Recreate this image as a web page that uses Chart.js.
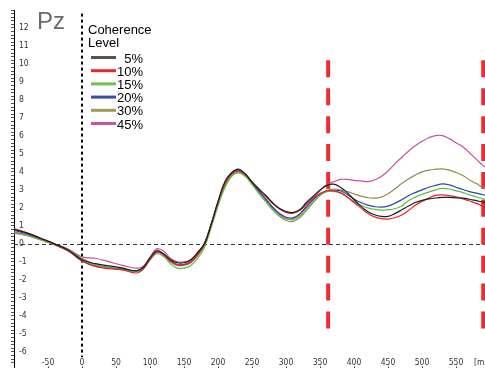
<!DOCTYPE html>
<html>
<head>
<meta charset="utf-8">
<script src="https://cdn.jsdelivr.net/npm/chart.js@4.4.1/dist/chart.umd.min.js"></script>
<style>
  html, body { margin: 0; padding: 0; background: #fff; overflow: hidden; }
  canvas { display: block; }
</style>
</head>
<body>
<canvas id="erp" width="485" height="368"></canvas>
<script>
// Time points (ms) of the averaged ERP waveforms
const times = [-100, -80, -60, -40, -20, 0, 20, 40, 60, 80,
  90, 100, 110, 120, 130, 140, 150, 160, 170, 180,
  190, 200, 210, 220, 230, 240, 250, 260, 270, 280,
  290, 300, 310, 320, 330, 340, 350, 360, 370, 380,
  390, 400, 410, 420, 430, 440, 450, 460, 470, 480,
  490, 500, 510, 520, 530, 540, 550, 560, 570, 580,
  590, 600];

// Amplitude (µV) at Pz for each coherence level
const coh5 = [0.8, 0.6, 0.3, 0.0, -0.35, -0.88, -1.1, -1.22, -1.35, -1.5,
  -1.3, -0.78, -0.38, -0.55, -0.88, -1.05, -1.05, -0.88, -0.48, 0.0,
  1.1, 2.35, 3.45, 3.95, 4.15, 3.9, 3.45, 3.05, 2.7, 2.3,
  1.98, 1.8, 1.74, 1.9, 2.3, 2.65, 3.0, 3.25, 3.32, 3.15,
  2.85, 2.45, 2.1, 1.8, 1.62, 1.53, 1.53, 1.68, 1.88, 2.1,
  2.3, 2.42, 2.5, 2.55, 2.58, 2.58, 2.56, 2.54, 2.48, 2.4,
  2.32, 2.26];
const coh10 = [0.85, 0.6, 0.3, -0.05, -0.4, -0.95, -1.25, -1.38, -1.45, -1.62,
  -1.4, -0.85, -0.45, -0.6, -0.95, -1.15, -1.15, -1.0, -0.6, -0.05,
  1.05, 2.3, 3.35, 3.9, 4.05, 3.85, 3.45, 3.05, 2.65, 2.25,
  1.95, 1.75, 1.7, 1.85, 2.2, 2.55, 2.8, 2.95, 2.95, 2.85,
  2.6, 2.3, 2.0, 1.7, 1.5, 1.4, 1.38, 1.45, 1.6, 1.85,
  2.15, 2.35, 2.55, 2.7, 2.72, 2.68, 2.62, 2.5, 2.38, 2.25,
  2.08, 1.98];
const coh15 = [0.62, 0.45, 0.2, -0.05, -0.35, -0.85, -1.2, -1.35, -1.45, -1.55,
  -1.4, -0.9, -0.55, -0.7, -1.1, -1.35, -1.35, -1.2, -0.8, -0.2,
  0.9, 2.1, 3.1, 3.75, 3.95, 3.75, 3.3, 2.8, 2.35, 1.9,
  1.55, 1.38, 1.35, 1.55, 1.95, 2.35, 2.7, 2.9, 2.92, 2.82,
  2.6, 2.35, 2.15, 2.0, 1.92, 1.88, 1.9, 1.95, 2.1, 2.4,
  2.6, 2.75, 2.88, 3.0, 3.08, 3.05, 2.95, 2.85, 2.72, 2.62,
  2.5, 2.42];
const coh20 = [0.75, 0.55, 0.28, -0.05, -0.4, -0.95, -1.25, -1.35, -1.42, -1.5,
  -1.35, -0.85, -0.45, -0.6, -0.95, -1.15, -1.15, -1.0, -0.6, 0.0,
  1.1, 2.35, 3.35, 3.95, 4.1, 3.85, 3.4, 2.95, 2.5, 2.05,
  1.7, 1.48, 1.45, 1.65, 2.05, 2.45, 2.75, 2.95, 2.98, 2.95,
  2.75, 2.5, 2.3, 2.15, 2.07, 2.04, 2.1, 2.25, 2.45, 2.68,
  2.85, 3.0, 3.15, 3.25, 3.33, 3.28, 3.15, 3.02, 2.9, 2.82,
  2.73, 2.68];
const coh30 = [0.6, 0.45, 0.22, -0.02, -0.3, -0.8, -1.15, -1.3, -1.4, -1.5,
  -1.35, -0.85, -0.45, -0.6, -1.0, -1.2, -1.2, -1.05, -0.65, -0.05,
  1.05, 2.25, 3.2, 3.8, 4.0, 3.8, 3.35, 2.85, 2.4, 1.95,
  1.55, 1.3, 1.25, 1.45, 1.85, 2.3, 2.7, 2.95, 3.05, 3.0,
  2.9, 2.78, 2.65, 2.57, 2.54, 2.6, 2.78, 3.05, 3.35, 3.6,
  3.82, 4.0, 4.1, 4.15, 4.17, 4.1, 3.97, 3.8, 3.55, 3.35,
  3.12, 3.0];
const coh45 = [0.65, 0.5, 0.25, -0.02, -0.3, -0.72, -0.8, -1.0, -1.2, -1.35,
  -1.25, -0.75, -0.28, -0.4, -0.8, -1.0, -1.0, -0.9, -0.5, 0.05,
  1.1, 2.3, 3.3, 3.85, 4.05, 3.85, 3.4, 2.95, 2.5, 2.05,
  1.65, 1.42, 1.4, 1.65, 2.1, 2.55, 2.95, 3.3, 3.45, 3.58,
  3.58, 3.53, 3.5, 3.46, 3.55, 3.75, 4.05, 4.45, 4.8, 5.15,
  5.45, 5.7, 5.9, 6.02, 6.02, 5.85, 5.62, 5.4, 5.05, 4.7,
  4.35, 4.15];

const seriesValues = [coh5, coh10, coh15, coh20, coh30, coh45];
const seriesLabels = ['5%', '10%', '15%', '20%', '30%', '45%'];
const lineColors = ['#1e1e1e', '#e5232b', '#5cbf45', '#2b47a3', '#958d4c', '#c44fa6'];
const swatchColors = ['#5b534c', '#e8262e', '#6cc24d', '#2f4ea6', '#a09a5c', '#c556ab'];

// Axis tick labels
const xTickValues = [-50, 0, 50, 100, 150, 200, 250, 300, 350, 400, 450, 500, 550];
const xUnitLabel = '[ms]';
const titleText = 'Pz';
const legendTitle = ['Coherence', 'Level'];

// Analysis window boundaries (ms)
const windowTimes = [362, 590];

const smallFont = "'Liberation Sans Narrow', 'DejaVu Sans Condensed', Arial, sans-serif";

const decor = {
  id: 'decor',
  beforeDatasetsDraw(chart) {
    const { ctx, chartArea: a, scales: { x, y } } = chart;
    ctx.save();
    // zero-amplitude reference
    ctx.strokeStyle = '#333';
    ctx.lineWidth = 1;
    ctx.setLineDash([4, 3]);
    const y0 = Math.round(y.getPixelForValue(0)) + 0.5;
    ctx.beginPath(); ctx.moveTo(a.left, y0); ctx.lineTo(a.right, y0); ctx.stroke();
    // stimulus onset
    ctx.strokeStyle = '#000';
    ctx.lineWidth = 2;
    ctx.setLineDash([3, 3]);
    const x0 = x.getPixelForValue(0);
    ctx.beginPath(); ctx.moveTo(x0, y.getPixelForValue(12.8)); ctx.lineTo(x0, y.getPixelForValue(-6.3)); ctx.stroke();
    // analysis window
    ctx.strokeStyle = '#ee2b30';
    ctx.lineWidth = 4;
    ctx.setLineDash([17, 10.9]);
    windowTimes.forEach(t => {
      const px = x.getPixelForValue(t);
      ctx.beginPath(); ctx.moveTo(px, y.getPixelForValue(10.2)); ctx.lineTo(px, y.getPixelForValue(-4.7)); ctx.stroke();
    });
    ctx.restore();
  },
  afterDraw(chart) {
    const { ctx, scales: { x } } = chart;
    ctx.save();
    // electrode name
    ctx.fillStyle = '#6b6b6b';
    ctx.font = "24px 'Liberation Sans', Arial, sans-serif";
    ctx.textAlign = 'left';
    ctx.textBaseline = 'alphabetic';
    ctx.fillText(titleText, 37, 29);
    // legend
    ctx.fillStyle = '#000';
    ctx.font = "13px 'Liberation Sans', Arial, sans-serif";
    ctx.fillText(legendTitle[0], 88, 34);
    ctx.fillText(legendTitle[1], 88, 47);
    chart.data.datasets.forEach((ds, i) => {
      const ly = 57.5 + i * 13.2;
      ctx.strokeStyle = ds.swatchColor;
      ctx.lineWidth = 3;
      ctx.beginPath(); ctx.moveTo(91, ly); ctx.lineTo(116, ly); ctx.stroke();
      ctx.fillStyle = '#000';
      ctx.textAlign = 'right';
      ctx.textBaseline = 'middle';
      ctx.fillText(ds.label, 143, ly + 1.5);
    });
    // time axis labels
    ctx.fillStyle = '#333';
    ctx.strokeStyle = '#333';
    ctx.lineWidth = 1;
    ctx.font = '8.5px ' + smallFont;
    ctx.textAlign = 'center';
    ctx.textBaseline = 'alphabetic';
    xTickValues.forEach(v => {
      const px = x.getPixelForValue(v);
      ctx.fillText(String(v), px, 365);
      ctx.beginPath(); ctx.moveTo(Math.round(px) + 0.5, 366.5); ctx.lineTo(Math.round(px) + 0.5, 368); ctx.stroke();
    });
    ctx.textAlign = 'left';
    ctx.fillText(xUnitLabel, x.getPixelForValue(576.5), 365);
    ctx.restore();
  }
};

new Chart(document.getElementById('erp'), {
  type: 'line',
  data: {
    datasets: seriesValues.map((vals, i) => ({
      label: seriesLabels[i],
      data: times.map((t, k) => ({ x: t, y: vals[k] })),
      borderColor: lineColors[i],
      swatchColor: swatchColors[i],
      borderWidth: 1.2,
      pointRadius: 0,
      tension: 0.4,
      fill: false
    }))
  },
  options: {
    responsive: false,
    animation: false,
    devicePixelRatio: 1,
    layout: { padding: { top: 10, right: 0, bottom: 0, left: 0 } },
    plugins: { legend: { display: false }, tooltip: { enabled: false } },
    scales: {
      x: { type: 'linear', min: -100, max: 592.6, display: false },
      y: {
        type: 'linear',
        position: 'left',
        min: -6.9,
        max: 13,
        afterFit(scale) {
          scale.width = 14;
          scale.paddingTop = 0;
          scale.paddingBottom = 0;
        },
        border: { display: true, color: '#000', width: 1 },
        grid: { drawOnChartArea: false, drawTicks: true, tickLength: 3, color: '#222', lineWidth: 0.8 },
        ticks: {
          stepSize: 0.2,
          autoSkip: false,
          mirror: true,
          padding: 5,
          color: '#333',
          font: { family: smallFont, size: 8.5 },
          callback(v) {
            const r = Math.round(v);
            return (Math.abs(v - r) < 1e-6 && r <= 12) ? String(r) : '';
          }
        }
      }
    }
  },
  plugins: [decor]
});
</script>
</body>
</html>
